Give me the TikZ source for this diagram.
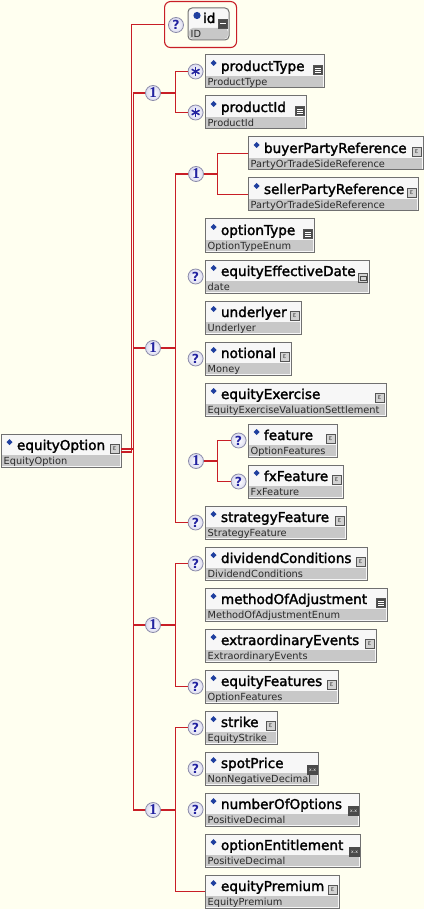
\documentclass[tikz,border=0pt]{standalone}
\usepackage{fontspec}
\setmainfont{DejaVu Sans}
\newfontfamily\namefamily{DejaVu Sans}[FakeBold=2]
\newfontfamily\digitfamily{Liberation Serif}
\usetikzlibrary{positioning}
\definecolor{Paper}{HTML}{FFFFF0}
\definecolor{LinkRed}{HTML}{C81E26}
\definecolor{BoxLine}{HTML}{707070}
\definecolor{NameFill}{HTML}{F7F7F7}
\definecolor{TypeFill}{HTML}{C8C8C8}
\definecolor{TypeText}{HTML}{2A2A2A}
\definecolor{Dia}{HTML}{1F3F9F}
\definecolor{BadgeLine}{HTML}{8C8CAA}
\definecolor{BadgeFill}{HTML}{DCDCF0}
\definecolor{BadgeText}{HTML}{2323A0}
\definecolor{IconDark}{HTML}{4A4A4A}
\definecolor{IconFill}{HTML}{D2D2D2}
\definecolor{IconLine}{HTML}{555555}
\newcommand\elnamefont{\namefamily\fontsize{13.6}{16}\selectfont}
\newcommand\eltypefont{\fontsize{9.8}{11}\selectfont}
\newcommand\qmarkfont{\bfseries\fontsize{12.5}{12.5}\selectfont}
\newcommand\onefont{\digitfamily\bfseries\fontsize{15}{15}\selectfont}
\newcommand\iconfont{\fontsize{7}{7}\selectfont}
\newcommand\decfont{\fontsize{4.5}{4.5}\selectfont}

\begin{document}
\begin{tikzpicture}[x=1pt, y=-1pt, every node/.style={inner sep=0pt},
    typed/.style={label={[typelabel]south west:#1}},
    under/.style={below=8pt of #1.south west, anchor=north west}]
  \tikzstyle{link}=[draw=LinkRed, line width=1.1pt]
  \tikzstyle{elem}=[rectangle, draw=BoxLine, line width=1pt, fill=NameFill, anchor=north west, outer sep=0pt,
    align=left, text height=16pt, text depth=17pt, font=\elnamefont, execute at begin node={\hspace*{16pt}},
    path picture={\fill[TypeFill] ([shift={(1pt,1pt)}]path picture bounding box.south west) rectangle ([shift={(-1pt,12pt)}]path picture bounding box.south east);
      \fill[Dia] ([shift={(8.5pt,-5pt)}]path picture bounding box.north west) -- ++(3pt,-3pt) -- ++(-3pt,-3pt) -- ++(-3pt,3pt) -- cycle;}]
  \tikzstyle{attr}=[rectangle, rounded corners=4pt, draw=BoxLine, line width=1pt, fill=NameFill, anchor=north west, outer sep=0pt,
    align=left, text height=15pt, text depth=17pt, font=\elnamefont, execute at begin node={\hspace*{15pt}},
    path picture={\fill[TypeFill] ([shift={(1pt,1pt)}]path picture bounding box.south west) rectangle ([shift={(-1pt,12pt)}]path picture bounding box.south east);
      \fill[Dia] ([shift={(9pt,-7.5pt)}]path picture bounding box.north west) circle (3.6pt);}]
  \tikzstyle{typelabel}=[anchor=base west, xshift=2.5pt, yshift=2.5pt, font=\eltypefont, text=TypeText]
  \tikzstyle{idframe}=[rectangle, rounded corners=6pt, draw=LinkRed, line width=1.1pt, anchor=north west, minimum width=72pt, minimum height=46pt]
  \tikzstyle{badge}=[circle, draw=BadgeLine, line width=0.8pt, inner color=white, outer color=BadgeFill, minimum size=15pt, text=BadgeText]
  \tikzstyle{optional}=[badge, font=\qmarkfont]
  \tikzstyle{compositor}=[badge, font=\onefont]
  \tikzstyle{repeated}=[badge, path picture={\foreach \a in {90,30,150} \draw[BadgeText, line width=1.6pt] ([shift={(\a:4.5pt)}]path picture bounding box.center) -- ([shift={(\a+180:4.5pt)}]path picture bounding box.center);}]
  \tikzstyle{icon}=[rectangle, draw=IconLine, line width=0.8pt, minimum width=9pt, minimum height=9pt, anchor=north east]
  \tikzstyle{icplx}=[label={[icon, fill=IconFill, xshift=-1.5pt, yshift=-10pt, font=\iconfont, text=IconDark]north east:ε}]
  \tikzstyle{ienum}=[label={[icon, fill=IconDark, xshift=-1pt, yshift=-10pt, path picture={\foreach \k in {2.5pt,4.5pt,6.5pt} \draw[white, line width=0.7pt] ([shift={(1.5pt,-\k)}]path picture bounding box.north west) -- ++(6pt,0pt);}]north east:{}}]
  \tikzstyle{idec}=[label={[icon, fill=IconDark, draw=IconDark, minimum width=10pt, yshift=-13pt, font=\decfont, text=white]north east:x.x}]
  \tikzstyle{idate}=[label={[icon, fill=IconFill, xshift=-1pt, yshift=-13pt, path picture={\draw[IconDark, line width=0.6pt] ([shift={(1.5pt,2pt)}]path picture bounding box.south west) rectangle ([shift={(-1.5pt,-2.5pt)}]path picture bounding box.north east);}]north east:{}}]
  \tikzstyle{iid}=[label={[icon, fill=IconDark, xshift=-1pt, yshift=-11pt, path picture={\draw[white, line width=1.2pt] ([xshift=1.5pt]path picture bounding box.west) -- ([xshift=-1.5pt]path picture bounding box.east);}]north east:{}}]

  \useasboundingbox (0,0) rectangle (424,909);
  \fill[Paper] (0,0) rectangle (424,909);

  % root and id attribute
  \node[elem, text width=120pt, typed=EquityOption, icplx] (equityOption) at (1,434) {equityOption};
  \node[idframe] (idGroup) at (164,1) {};
  \node[attr, text width=41pt, typed=ID, iid] (id) at (188,8) {id};
  \node[optional] (qId) at (176,25) {?};

  % child elements
  \node[elem, text width=119pt, typed=ProductType, ienum] (productType) at (205,55) {productType};
  \node[elem, text width=101pt, typed=ProductId, ienum, under=productType] (productId) {productId};
  \node[elem, text width=175pt, typed=PartyOrTradeSideReference, icplx, under=productId, xshift=43pt] (buyerPartyReference) {buyerPartyReference};
  \node[elem, text width=170pt, typed=PartyOrTradeSideReference, icplx, under=buyerPartyReference] (sellerPartyReference) {sellerPartyReference};
  \node[elem, text width=109pt, typed=OptionTypeEnum, ienum, under=sellerPartyReference, xshift=-43pt] (optionType) {optionType};
  \node[elem, text width=164pt, typed=date, idate, under=optionType] (equityEffectiveDate) {equityEffectiveDate};
  \node[elem, text width=96pt, typed=Underlyer, icplx, under=equityEffectiveDate] (underlyer) {underlyer};
  \node[elem, text width=86pt, typed=Money, icplx, under=underlyer] (notional) {notional};
  \node[elem, text width=181pt, typed=EquityExerciseValuationSettlement, icplx, under=notional] (equityExercise) {equityExercise};
  \node[elem, text width=89pt, typed=OptionFeatures, icplx, under=equityExercise, xshift=43pt] (feature) {feature};
  \node[elem, text width=95pt, typed=FxFeature, icplx, under=feature] (fxFeature) {fxFeature};
  \node[elem, text width=141pt, typed=StrategyFeature, icplx, under=fxFeature, xshift=-43pt] (strategyFeature) {strategyFeature};
  \node[elem, text width=162pt, typed=DividendConditions, icplx, under=strategyFeature] (dividendConditions) {dividendConditions};
  \node[elem, text width=182pt, typed=MethodOfAdjustmentEnum, ienum, under=dividendConditions] (methodOfAdjustment) {methodOfAdjustment};
  \node[elem, text width=171pt, typed=ExtraordinaryEvents, icplx, under=methodOfAdjustment] (extraordinaryEvents) {extraordinaryEvents};
  \node[elem, text width=133pt, typed=OptionFeatures, icplx, under=extraordinaryEvents] (equityFeatures) {equityFeatures};
  \node[elem, text width=72pt, typed=EquityStrike, icplx, under=equityFeatures] (strike) {strike};
  \node[elem, text width=113pt, typed=NonNegativeDecimal, idec, under=strike] (spotPrice) {spotPrice};
  \node[elem, text width=154pt, typed=PositiveDecimal, idec, under=spotPrice] (numberOfOptions) {numberOfOptions};
  \node[elem, text width=155pt, typed=PositiveDecimal, idec, under=numberOfOptions] (optionEntitlement) {optionEntitlement};
  \node[elem, text width=134pt, typed=EquityPremium, icplx, under=optionEntitlement] (equityPremium) {equityPremium};

  % compositors and occurrence badges
  \node[compositor] (seqA) at (153,93) {1};
  \node[compositor] (seqB) at (153,348) {1};
  \node[compositor] (seqC) at (153,625) {1};
  \node[compositor] (seqD) at (153,810) {1};
  \node[compositor] (cParty) at (196,174) {1};
  \node[compositor] (cFeature) at (196,461) {1};
  \node[repeated, left=1.5pt of productType] (rProductType) {};
  \node[repeated, left=1.5pt of productId] (rProductId) {};
  \node[optional, left=1.5pt of equityEffectiveDate] (qEffectiveDate) {?};
  \node[optional, left=1.5pt of notional] (qNotional) {?};
  \node[optional, left=1.5pt of feature] (qFeature) {?};
  \node[optional, left=1.5pt of fxFeature] (qFxFeature) {?};
  \node[optional, left=1.5pt of strategyFeature] (qStrategyFeature) {?};
  \node[optional, left=1.5pt of dividendConditions] (qDividendConditions) {?};
  \node[optional, left=1.5pt of equityFeatures] (qEquityFeatures) {?};
  \node[optional, left=1.5pt of strike] (qStrike) {?};
  \node[optional, left=1.5pt of spotPrice] (qSpotPrice) {?};
  \node[optional, left=1.5pt of numberOfOptions] (qNumberOfOptions) {?};

  % junctions
  \coordinate (idBus) at (131.5,0);
  \coordinate (bus) at (133.5,0);
  \coordinate (jA) at (175.5,93);
  \coordinate (jB) at (175.5,348);
  \coordinate (jC) at (175.5,625);
  \coordinate (jD) at (175.5,810);
  \coordinate (jParty) at (217.5,174);
  \coordinate (jFeature) at (217.5,461);

  \draw[link] ([yshift=-1.5pt]equityOption.east) -| (idBus |- idGroup.west) -- (idGroup.west);
  \draw[link] ([yshift=1.5pt]equityOption.east) -- ([yshift=1.5pt]equityOption.east -| bus);
  \draw[link] (seqA) -| (bus |- seqD) -- (seqD);
  \draw[link] (seqB) -- (seqB -| bus);
  \draw[link] (seqC) -- (seqC -| bus);

  \draw[link] (seqA) -- (jA);
  \draw[link] (rProductType) -| (jA) |- (rProductId);
  \draw[link] (seqB) -- (jB);
  \draw[link] (cParty) -| (jB) |- (qStrategyFeature);
  \draw[link] (cParty) -- (jParty);
  \draw[link] (buyerPartyReference.west) -| (jParty) |- (sellerPartyReference.west);
  \draw[link] (cFeature) -- (jFeature);
  \draw[link] (qFeature) -| (jFeature) |- (qFxFeature);
  \draw[link] (seqC) -- (jC);
  \draw[link] (qDividendConditions) -| (jC) |- (qEquityFeatures);
  \draw[link] (seqD) -- (jD);
  \draw[link] (qStrike) -| (jD) |- (equityPremium.west);
\end{tikzpicture}
\end{document}
